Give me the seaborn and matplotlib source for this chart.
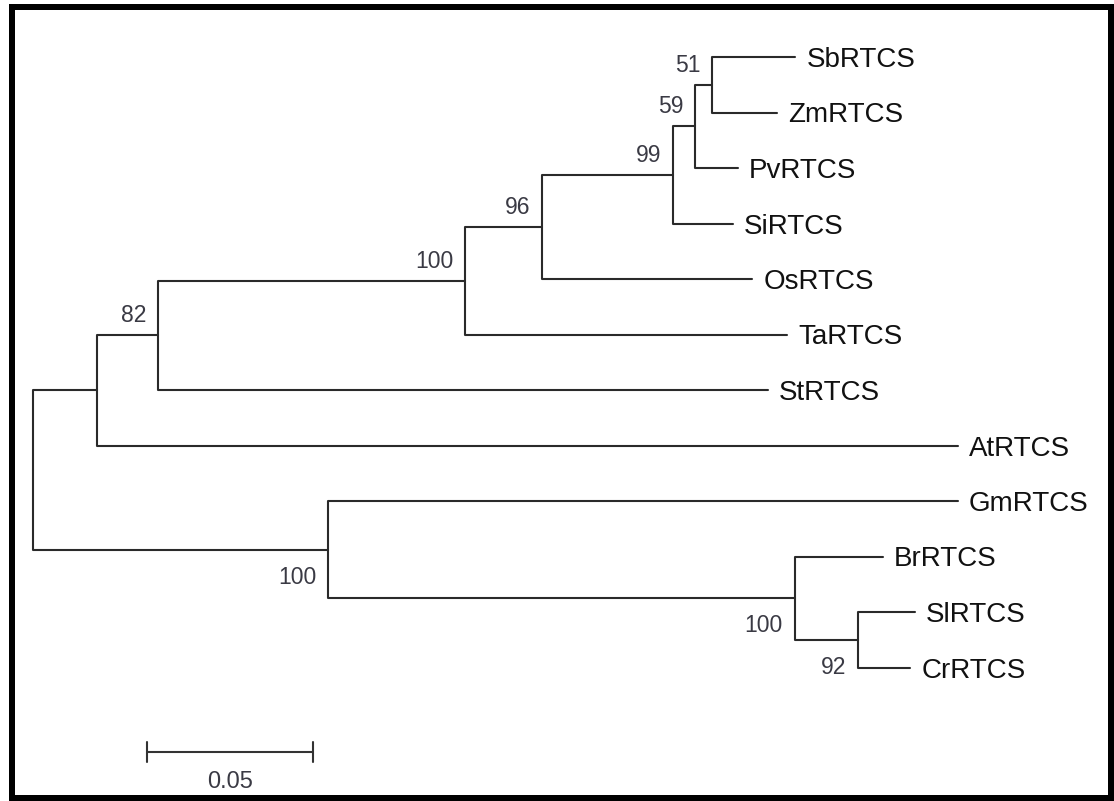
import numpy as np
import pandas as pd
import matplotlib
matplotlib.use("Agg")
import matplotlib.pyplot as plt
from matplotlib.patches import Rectangle
import seaborn as sns

# ---------------- data ----------------
leaf_names = ["SbRTCS", "ZmRTCS", "PvRTCS", "SiRTCS", "OsRTCS", "TaRTCS",
              "StRTCS", "AtRTCS", "GmRTCS", "BrRTCS", "SlRTCS", "CrRTCS"]

# tree nodes: name, parent, branch length
node_names = ["root", "nAt", "nSt", "nTa", "nOs", "nSi", "nPv", "nSbZm",
              "SbRTCS", "ZmRTCS", "PvRTCS", "SiRTCS", "OsRTCS", "TaRTCS",
              "StRTCS", "AtRTCS", "nGm", "GmRTCS", "nBr", "BrRTCS", "nSlCr",
              "SlRTCS", "CrRTCS"]
node_parent = [None, "root", "nAt", "nSt", "nTa", "nOs", "nSi", "nPv",
               "nSbZm", "nSbZm", "nPv", "nSi", "nOs", "nTa",
               "nSt", "nAt", "root", "nGm", "nGm", "nBr", "nBr",
               "nSlCr", "nSlCr"]
branch_length = [0.0, 0.0193, 0.0184, 0.0925, 0.0232, 0.0395, 0.0066, 0.0051,
                 0.0250, 0.0196, 0.0129, 0.0180, 0.0633, 0.0970,
                 0.1837, 0.2593, 0.0889, 0.1897, 0.1406, 0.0265, 0.0190,
                 0.0172, 0.0157]

# bootstrap support values
boot_nodes = ["nSbZm", "nPv", "nSi", "nOs", "nTa", "nSt", "nGm", "nBr", "nSlCr"]
boot_values = [51, 59, 99, 96, 100, 82, 100, 100, 92]
boot_below = [False, False, False, False, False, False, True, True, True]

scale_value = 0.05
scale_label = "0.05"

# ---------------- layout computation ----------------
parent_of = dict(zip(node_names, node_parent))
bl = dict(zip(node_names, branch_length))
children = {n: [] for n in node_names}
for n, p in zip(node_names, node_parent):
    if p is not None:
        children[p].append(n)

xpos = {}
def set_x(n, acc):
    xpos[n] = acc
    for c in children[n]:
        set_x(c, acc + bl[c])
set_x("root", 0.0)

ypos = {name: i for i, name in enumerate(leaf_names)}
def set_y(n):
    if n in ypos:
        return ypos[n]
    ys = [set_y(c) for c in children[n]]
    ypos[n] = (min(ys) + max(ys)) / 2.0
    return ypos[n]
set_y("root")

rows = []
for n in node_names:
    p = parent_of[n]
    if p is None:
        continue
    rows.append(dict(edge=n, order=0, x=xpos[p], y=ypos[p]))
    rows.append(dict(edge=n, order=1, x=xpos[p], y=ypos[n]))
    rows.append(dict(edge=n, order=2, x=xpos[n], y=ypos[n]))
edges = pd.DataFrame(rows)

# ---------------- drawing ----------------
sns.set_theme(style="white")
plt.rcParams['font.family'] = ['Liberation Sans', 'DejaVu Sans']

W, H = 1114, 801
fig = plt.figure(figsize=(W / 100, H / 100), dpi=100)
ax = fig.add_axes([0, 0, 1, 1])

line_col = "#2a2a2a"
sns.lineplot(data=edges, x="x", y="y", units="edge", estimator=None,
             sort=False, color=line_col, linewidth=1.5, ax=ax, legend=False)

# pixel mapping: x_px = 33 + d*3320 ; y_px = 57 + i*55.5
px_per_unit = 3320.0
x0_px = 33.0
py_per_leaf = 55.5
y0_px = 57.0
ax.set_xlim(-x0_px / px_per_unit, (W - x0_px) / px_per_unit)
ax.set_ylim((H - y0_px) / py_per_leaf, -y0_px / py_per_leaf)
ax.axis("off")

pt = 0.72  # points per pixel
for name in leaf_names:
    ax.annotate(name, (xpos[name], ypos[name]), xytext=(11 * pt, -10 * pt),
                textcoords="offset points", ha="left", va="baseline",
                fontsize=20, color="#111111")

boot_col = "#3a3a44"
for n, v, below in zip(boot_nodes, boot_values, boot_below):
    dy = -34 * pt if below else 13 * pt
    ax.annotate(str(v), (xpos[n], ypos[n]), xytext=(-12 * pt, dy),
                textcoords="offset points", ha="right", va="baseline",
                fontsize=16.5, color=boot_col)

# scale bar
sb_x0 = (147 - x0_px) / px_per_unit
sb_y = (752 - y0_px) / py_per_leaf
tick = 10 / py_per_leaf
scale_df = pd.DataFrame({"x": [sb_x0, sb_x0 + scale_value], "y": [sb_y, sb_y]})
sns.lineplot(data=scale_df, x="x", y="y", estimator=None, sort=False,
             color="#333333", linewidth=1.5, ax=ax, legend=False)
for xx in (sb_x0, sb_x0 + scale_value):
    ax.plot([xx, xx], [sb_y - tick, sb_y + tick], color="#333333", lw=1.5)
ax.annotate(scale_label, (sb_x0 + scale_value / 2, sb_y), xytext=(0, -36 * pt),
            textcoords="offset points", ha="center", va="baseline",
            fontsize=17, color=boot_col)
ax.set_xlabel("")
ax.set_ylabel("")

# outer frame
lw_px = 6
fig.patches.append(Rectangle((11.5 / W, 1 - 798 / H), (1111 - 11.5) / W, (798 - 7) / H,
                             transform=fig.transFigure, fill=False,
                             edgecolor="black", linewidth=lw_px * pt))

fig.savefig("out.png", dpi=100, facecolor="white")
